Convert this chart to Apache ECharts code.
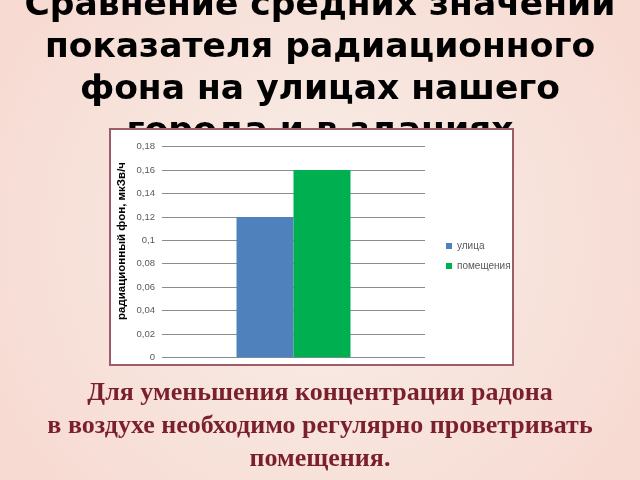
<!DOCTYPE html>
<html>
<head>
<meta charset="utf-8">
<script src="https://cdn.jsdelivr.net/npm/echarts@6/dist/echarts.min.js"></script>
<style>
html,body{margin:0;padding:0;}
#c{width:640px;height:480px;}
</style>
</head>
<body>
<div id="c"></div>
<script>
var categories = [''];
var seriesNames = ['улица', 'помещения'];
var streetValues = [0.12];
var indoorValues = [0.16];
var yTicks = ['0', '0,02', '0,04', '0,06', '0,08', '0,1', '0,12', '0,14', '0,16', '0,18'];
var titleText = 'Сравнение средних значений\nпоказателя радиационного\nфона на улицах нашего\nгорода и в зданиях';
var noteText = 'Для уменьшения концентрации радона\nв воздухе необходимо регулярно проветривать\nпомещения.';
var yName = 'радиационный фон, мкЗв/ч';

var chart = echarts.init(document.getElementById('c'));
chart.setOption({
  backgroundColor: {
    type: 'radial', x: 0.5, y: 0.5, r: 0.75,
    colorStops: [{offset: 0, color: '#f7efe8'}, {offset: 1, color: '#f7dbd3'}]
  },
  animation: false,
  graphic: [
    {type: 'text', left: 'center', top: -15, z: 1,
     style: {text: titleText, font: 'bold 34.5px "DejaVu Sans"', lineHeight: 42, fill: '#000', textAlign: 'center'}},
    {type: 'rect', shape: {x: 110, y: 129, width: 403, height: 236}, z: 2,
     style: {fill: '#ffffff', stroke: '#9e5c69', lineWidth: 2}},
    {type: 'text', left: 'center', top: 377, z: 1,
     style: {text: noteText, font: 'bold 26px "Liberation Serif"', lineHeight: 33, fill: '#7a1f2c', textAlign: 'center'}}
  ],
  grid: {left: 162, right: 215, top: 146.7, bottom: 122.7},
  legend: {
    orient: 'vertical', left: 441, top: 235, z: 5,
    itemWidth: 6, itemHeight: 6, itemGap: 8,
    icon: 'rect',
    textStyle: {fontSize: 10, color: '#595959', fontFamily: 'Liberation Sans', lineHeight: 12},
    data: seriesNames
  },
  xAxis: {
    type: 'category', data: categories, z: 3,
    axisLine: {show: false}, axisTick: {show: false}, axisLabel: {show: false}
  },
  yAxis: {
    type: 'value', min: 0, max: 0.18, interval: 0.02, z: 3,
    name: yName, nameLocation: 'middle', nameGap: 34,
    nameTextStyle: {fontSize: 11.5, fontWeight: 'bold', color: '#000', fontFamily: 'Liberation Sans', padding: [0, 0, 0, 22]},
    axisLine: {show: false}, axisTick: {show: false},
    axisLabel: {fontSize: 9.5, color: '#595959', fontFamily: 'Liberation Sans', margin: 7,
      formatter: function (v) { return yTicks[Math.round(v / 0.02)]; }},
    splitLine: {lineStyle: {color: '#8c8c8c', width: 1}}
  },
  series: [
    {name: seriesNames[0], type: 'bar', data: streetValues, barWidth: 57, barGap: '0%', z: 4,
     itemStyle: {color: '#4f81bd'}},
    {name: seriesNames[1], type: 'bar', data: indoorValues, barWidth: 57, barGap: '0%', z: 4,
     itemStyle: {color: '#00b050'}}
  ]
});
</script>
</body>
</html>
